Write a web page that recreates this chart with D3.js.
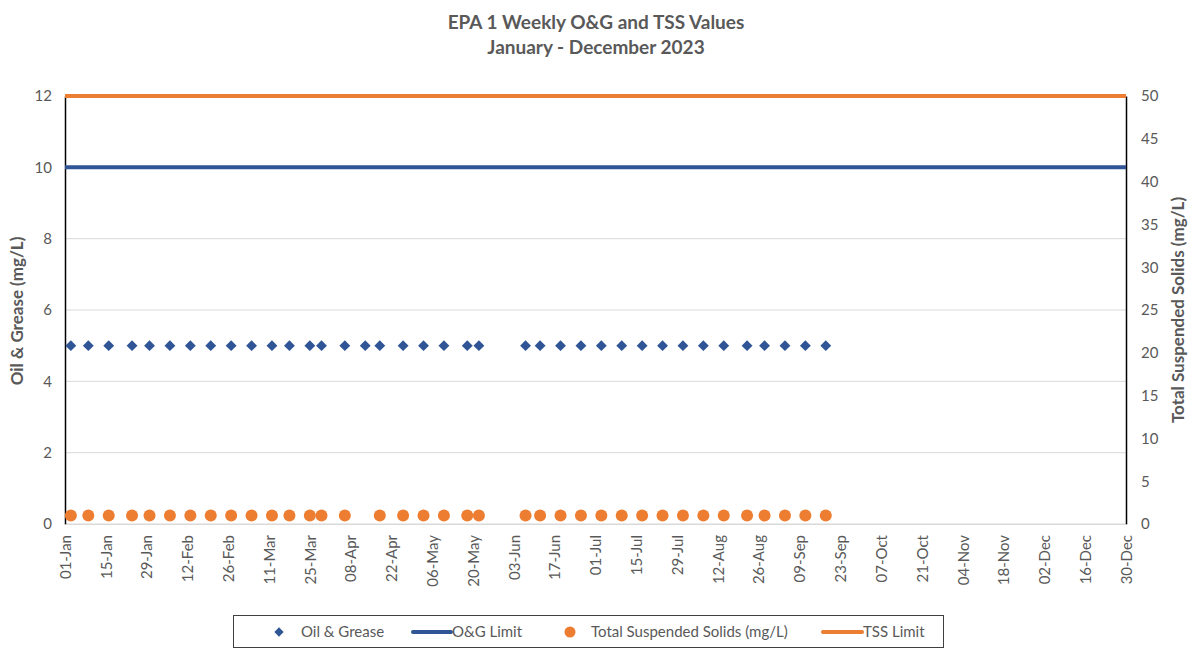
<!DOCTYPE html>
<html>
<head>
<meta charset="utf-8">
<script src="https://cdn.jsdelivr.net/npm/d3@7"></script>
<style>
  body { margin: 0; background: #fff; }
  text { font-family: Lato, "Open Sans", sans-serif; fill: #595959; }
</style>
</head>
<body>
<div id="chart"></div>
<script>
// Sample dates (axis runs on a 2024 calendar: 14-day ticks 01-Jan .. 30-Dec)
var sampleDates = [
  "2024-01-03", "2024-01-09", "2024-01-16", "2024-01-24", "2024-01-30",
  "2024-02-06", "2024-02-13", "2024-02-20", "2024-02-27", "2024-03-05",
  "2024-03-12", "2024-03-18", "2024-03-25", "2024-03-29", "2024-04-06",
  "2024-04-13", "2024-04-18", "2024-04-26", "2024-05-03", "2024-05-10",
  "2024-05-18", "2024-05-22",
  "2024-06-07", "2024-06-12", "2024-06-19", "2024-06-26", "2024-07-03",
  "2024-07-10", "2024-07-17", "2024-07-24", "2024-07-31", "2024-08-07",
  "2024-08-14", "2024-08-22", "2024-08-28", "2024-09-04", "2024-09-11",
  "2024-09-18"
];
var ogValues = [
  5, 5, 5, 5, 5, 5, 5, 5, 5, 5, 5, 5, 5, 5, 5, 5, 5, 5, 5, 5, 5, 5,
  5, 5, 5, 5, 5, 5, 5, 5, 5, 5, 5, 5, 5, 5, 5, 5
];
var tssValues = [
  1, 1, 1, 1, 1, 1, 1, 1, 1, 1, 1, 1, 1, 1, 1, null, 1, 1, 1, 1, 1, 1,
  1, 1, 1, 1, 1, 1, 1, 1, 1, 1, 1, 1, 1, 1, 1, 1
];
var ogLimit = 10;
var tssLimit = 50;
var leftTicks = [0, 2, 4, 6, 8, 10, 12];
var rightTicks = [0, 5, 10, 15, 20, 25, 30, 35, 40, 45, 50];
var axisStart = "2024-01-01", axisEnd = "2024-12-30";

var width = 1190, height = 648;
var margin = {top: 96, right: 64, bottom: 124, left: 65};
var blue = "#2F5597", orange = "#ED7D31";

var parse = d3.timeParse("%Y-%m-%d");
var fmt = d3.timeFormat("%d-%b");

var svg = d3.select("#chart").append("svg")
  .attr("width", width).attr("height", height);

var x = d3.scaleTime()
  .domain([parse(axisStart), parse(axisEnd)])
  .range([margin.left, width - margin.right]);
var yL = d3.scaleLinear().domain([0, 12]).range([height - margin.bottom, margin.top]);
var yR = d3.scaleLinear().domain([0, 50]).range([height - margin.bottom, margin.top]);

var data = sampleDates.map(function(d, i) {
  return {date: parse(d), og: ogValues[i], tss: tssValues[i]};
});

// gridlines
svg.append("g").selectAll("line").data(leftTicks).enter().append("line")
  .attr("x1", x.range()[0]).attr("x2", x.range()[1])
  .attr("y1", function(d) { return yL(d); }).attr("y2", function(d) { return yL(d); })
  .attr("stroke", "#d9d9d9").attr("stroke-width", 1);

// left axis
var gl = svg.append("g").attr("transform", "translate(" + margin.left + ",0)")
  .call(d3.axisLeft(yL).tickValues(leftTicks).tickSize(0).tickPadding(13));
gl.select(".domain").attr("stroke", "#000").attr("stroke-width", 1.5);
gl.selectAll("text").style("font-size", "15px").attr("fill", "#595959");

// right axis
var gr = svg.append("g").attr("transform", "translate(" + (width - margin.right) + ",0)")
  .call(d3.axisRight(yR).tickValues(rightTicks).tickSize(0).tickPadding(15));
gr.select(".domain").attr("stroke", "#000").attr("stroke-width", 1.5);
gr.selectAll("text").style("font-size", "15px").attr("fill", "#595959");

// x axis, 14-day ticks
var xTicks = d3.range(0, 27).map(function(k) { return d3.timeDay.offset(parse(axisStart), k * 14); });
var gx = svg.append("g").attr("transform", "translate(0," + yL(0) + ")")
  .call(d3.axisBottom(x).tickValues(xTicks).tickFormat(fmt).tickSize(0));
gx.select(".domain").attr("stroke", "#d9d9d9");
gx.selectAll("text")
  .style("font-size", "15px").attr("fill", "#595959")
  .attr("text-anchor", "end")
  .attr("transform", "rotate(-90)")
  .attr("x", -11).attr("y", 0).attr("dy", "0.35em");

// limit lines
svg.append("line")
  .attr("x1", x.range()[0]).attr("x2", x.range()[1])
  .attr("y1", yL(ogLimit)).attr("y2", yL(ogLimit))
  .attr("stroke", blue).attr("stroke-width", 4);
svg.append("line")
  .attr("x1", x.range()[0]).attr("x2", x.range()[1])
  .attr("y1", yR(tssLimit)).attr("y2", yR(tssLimit))
  .attr("stroke", orange).attr("stroke-width", 4);

// TSS points
svg.append("g").selectAll("circle")
  .data(data.filter(function(d) { return d.tss != null; }))
  .enter().append("circle")
  .attr("cx", function(d) { return x(d.date); })
  .attr("cy", function(d) { return yR(d.tss); })
  .attr("r", 6).attr("fill", orange);

// O&G points
var diamond = d3.symbol().type(d3.symbolDiamond2).size(75);
svg.append("g").selectAll("path")
  .data(data.filter(function(d) { return d.og != null; }))
  .enter().append("path")
  .attr("d", diamond)
  .attr("transform", function(d) { return "translate(" + x(d.date) + "," + yL(d.og) + ")"; })
  .attr("fill", blue);

// title
svg.append("text").attr("x", 596).attr("y", 29).attr("text-anchor", "middle")
  .style("font-size", "19px").style("font-weight", "bold")
  .text("EPA 1 Weekly O&G and TSS Values");
svg.append("text").attr("x", 596).attr("y", 54).attr("text-anchor", "middle")
  .style("font-size", "19px").style("font-weight", "bold")
  .text("January - December 2023");

// axis titles
svg.append("text")
  .attr("transform", "translate(23," + ((margin.top + yL(0)) / 2 + 1) + ") rotate(-90)")
  .attr("text-anchor", "middle")
  .style("font-size", "17px").style("font-weight", "bold")
  .text("Oil & Grease (mg/L)");
svg.append("text")
  .attr("transform", "translate(1184," + ((margin.top + yL(0)) / 2) + ") rotate(-90)")
  .attr("text-anchor", "middle")
  .style("font-size", "17px").style("font-weight", "bold")
  .text("Total Suspended Solids (mg/L)");

// legend
var lg = svg.append("g");
lg.append("rect").attr("x", 233.5).attr("y", 615.5).attr("width", 710).attr("height", 32)
  .attr("fill", "#fff").attr("stroke", "#404040").attr("stroke-width", 1);
var ly = 632;
lg.append("path").attr("d", d3.symbol().type(d3.symbolDiamond2).size(55))
  .attr("transform", "translate(279," + ly + ")").attr("fill", blue);
lg.append("text").attr("x", 301).attr("y", ly).attr("dy", "0.35em")
  .style("font-size", "15px").text("Oil & Grease");
lg.append("line").attr("x1", 413).attr("x2", 451).attr("y1", ly).attr("y2", ly)
  .attr("stroke", blue).attr("stroke-width", 4).attr("stroke-linecap", "round");
lg.append("text").attr("x", 452).attr("y", ly).attr("dy", "0.35em")
  .style("font-size", "15px").text("O&G Limit");
lg.append("circle").attr("cx", 570).attr("cy", ly).attr("r", 5.5).attr("fill", orange);
lg.append("text").attr("x", 591).attr("y", ly).attr("dy", "0.35em")
  .style("font-size", "15px").text("Total Suspended Solids (mg/L)");
lg.append("line").attr("x1", 823).attr("x2", 862).attr("y1", ly).attr("y2", ly)
  .attr("stroke", orange).attr("stroke-width", 4).attr("stroke-linecap", "round");
lg.append("text").attr("x", 863).attr("y", ly).attr("dy", "0.35em")
  .style("font-size", "15px").text("TSS Limit");
</script>
</body>
</html>
